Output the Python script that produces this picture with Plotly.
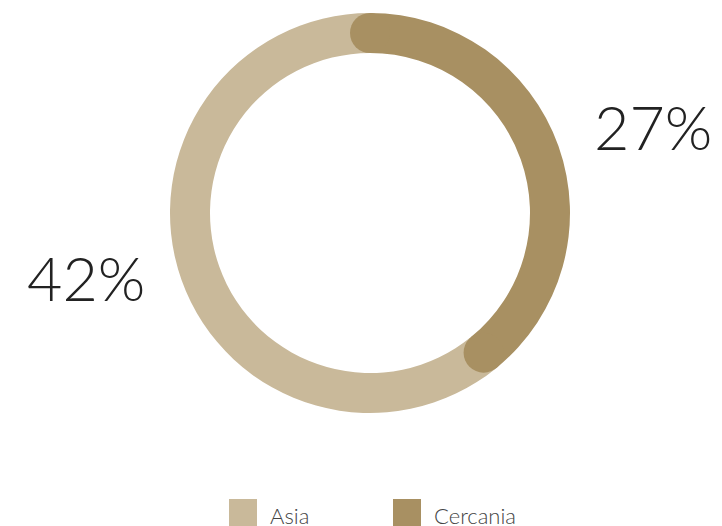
import math
import plotly.graph_objects as go

# donnees
regions = ["Asia", "Cercania"]
pourcentages = [42, 27]
couleurs = ["#C9B99A", "#A89062"]

trou = 0.8  # epaisseur de l'anneau

fig = go.Figure()

# anneau : Cercania part de midi dans le sens horaire, Asia complete le reste
fig.add_trace(go.Pie(
    labels=regions[::-1],
    values=pourcentages[::-1],
    hole=trou,
    sort=False,
    direction="clockwise",
    rotation=0,
    marker=dict(colors=couleurs[::-1], line=dict(width=0)),
    textinfo="none",
    hoverinfo="label+value",
    showlegend=False,
    domain=dict(x=[0, 1], y=[0, 1]),
))

# bouts arrondis de l'arc Cercania (calcules depuis les donnees)
total = sum(pourcentages)
angle_fin = 2 * math.pi * pourcentages[1] / total  # sens horaire depuis midi
r_milieu = (1 + trou) / 4
r_bout = (1 - trou) / 4
for ang in [0, angle_fin]:
    cx = 0.5 + r_milieu * math.sin(ang)
    cy = 0.5 + r_milieu * math.cos(ang)
    fig.add_shape(type="circle", xref="paper", yref="paper",
                  x0=cx - r_bout, x1=cx + r_bout, y0=cy - r_bout, y1=cy + r_bout,
                  fillcolor=couleurs[1], line=dict(width=0), layer="above")

# etiquettes en pourcentage
police_chiffres = dict(family="Lato, Inter, sans-serif", size=61, color="#222222", weight=300)
fig.add_annotation(x=1.2075, y=0.717, xref="paper", yref="paper", showarrow=False,
                   xanchor="center", yanchor="middle",
                   text=f"{pourcentages[1]}%", font=police_chiffres)
fig.add_annotation(x=-0.21, y=0.339, xref="paper", yref="paper", showarrow=False,
                   xanchor="center", yanchor="middle",
                   text=f"{pourcentages[0]}%", font=police_chiffres)

# legende faite a la main (carres plus grands que ceux de plotly)
legende_x = [0.1475, 0.5575]
for nom, coul, lx in zip(regions, couleurs, legende_x):
    fig.add_shape(type="rect", xref="paper", yref="paper",
                  x0=lx, x1=lx + 0.07, y0=-0.285, y1=-0.215,
                  fillcolor=coul, line=dict(width=0))
    fig.add_annotation(x=lx + 0.0975, y=-0.256, xref="paper", yref="paper", showarrow=False,
                       xanchor="left", yanchor="middle", text=nom,
                       font=dict(family="Lato, Inter, sans-serif", size=22, color="#444444", weight=300))

# la page html ajoute 8px de marge autour du graphe
fig.update_layout(
    width=722,
    height=526,
    margin=dict(l=162, r=160, t=5, b=121),
    paper_bgcolor="white",
    plot_bgcolor="white",
    showlegend=False,
)

fig.write_html("out.html")
